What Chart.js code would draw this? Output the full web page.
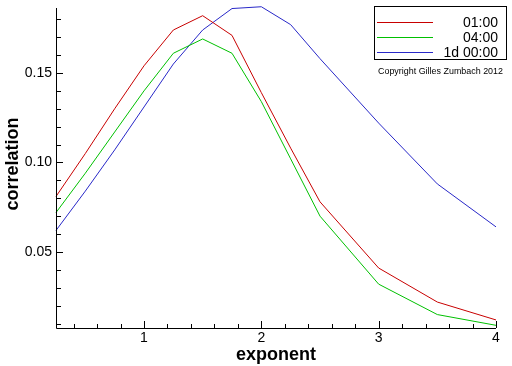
<!DOCTYPE html>
<html><head><meta charset="utf-8">
<script src="https://cdn.jsdelivr.net/npm/chart.js@4/dist/chart.umd.min.js"></script>
<style>html,body{margin:0;padding:0;background:#fff}canvas{display:block}</style>
</head><body>
<canvas id="c" width="512" height="366"></canvas>
<script>
const exponents = [0.25, 0.5, 0.75, 1, 1.25, 1.5, 1.75, 2, 2.25, 2.5, 3, 3.5, 4];
const corr0100 = [0.081, 0.105, 0.130, 0.154, 0.174, 0.182, 0.171, 0.139, 0.108, 0.078, 0.041, 0.022, 0.012];
const corr0400 = [0.072, 0.094, 0.117, 0.140, 0.161, 0.169, 0.161, 0.134, 0.102, 0.070, 0.032, 0.015, 0.009];
const corr1d   = [0.062, 0.084, 0.107, 0.131, 0.155, 0.174, 0.186, 0.187, 0.177, 0.158, 0.122, 0.088, 0.064];
const seriesLabels = ['01:00', '04:00', '1d 00:00'];
const seriesColors = ['#c80000', '#00c000', '#2828c8'];
const xTickLabels = [1, 2, 3, 4];
const yTickLabels = [0.05, 0.10, 0.15];
const xMinorStep = 0.2, yMinorStep = 0.01;
const xTitle = 'exponent', yTitle = 'correlation';
const copyright = 'Copyright Gilles Zumbach 2012';

const seriesValues = [corr0100, corr0400, corr1d];
const datasets = seriesValues.map((vals, i) => ({
  label: seriesLabels[i],
  data: exponents.map((x, j) => ({x: x, y: vals[j]})),
  borderColor: seriesColors[i],
  backgroundColor: seriesColors[i],
  borderWidth: 1,
  pointRadius: 0,
  tension: 0,
  fill: false,
  clip: false
}));

const FONT = '"Liberation Sans", Arial, sans-serif';

const decorPlugin = {
  id: 'decor',
  afterDraw(chart) {
    const ctx = chart.ctx;
    const xs = chart.scales.x, ys = chart.scales.y;
    const ca = chart.chartArea;
    ctx.save();
    ctx.strokeStyle = '#000';
    ctx.lineWidth = 1;
    // axes
    ctx.beginPath();
    ctx.moveTo(ca.left + 0.5, ca.top);
    ctx.lineTo(ca.left + 0.5, ca.bottom + 0.5);
    ctx.lineTo(ca.right, ca.bottom + 0.5);
    ctx.stroke();
    // y ticks (inward)
    ctx.beginPath();
    for (let k = 1; k * yMinorStep <= ys.max + 1e-9; k++) {
      const v = k * yMinorStep;
      if (v < ys.min) continue;
      const major = yTickLabels.some(t => Math.abs(t - v) < 1e-9);
      const py = Math.round(ys.getPixelForValue(v)) + 0.5;
      ctx.moveTo(ca.left, py);
      ctx.lineTo(ca.left + (major ? 7 : 5), py);
    }
    // x ticks (inward)
    for (let k = 1; k * xMinorStep <= xs.max + 1e-9; k++) {
      const v = k * xMinorStep;
      if (v < xs.min) continue;
      const major = xTickLabels.some(t => Math.abs(t - v) < 1e-9);
      const px = Math.round(xs.getPixelForValue(v)) + 0.5;
      ctx.moveTo(px, ca.bottom);
      ctx.lineTo(px, ca.bottom - (major ? 7 : 4));
    }
    ctx.stroke();

    // axis titles
    ctx.fillStyle = '#000';
    ctx.font = 'bold 18px ' + FONT;
    ctx.textAlign = 'center';
    ctx.textBaseline = 'middle';
    ctx.fillText(xTitle, (ca.left + ca.right) / 2, 355);
    ctx.save();
    ctx.translate(13, 164);
    ctx.rotate(-Math.PI / 2);
    ctx.fillText(yTitle, 0, 0);
    ctx.restore();

    // legend box
    const bx = 374, by = 6, bw = 132, bh = 53;
    ctx.fillStyle = '#fff';
    ctx.fillRect(bx, by, bw, bh);
    ctx.strokeStyle = '#000';
    ctx.strokeRect(bx + 0.5, by + 0.5, bw, bh);
    ctx.font = '14px ' + FONT;
    ctx.textAlign = 'right';
    ctx.textBaseline = 'middle';
    chart.data.datasets.forEach((ds, i) => {
      const ly = 22 + i * 15;
      ctx.strokeStyle = ds.borderColor;
      ctx.beginPath();
      ctx.moveTo(377, ly + 0.5);
      ctx.lineTo(433, ly + 0.5);
      ctx.stroke();
      ctx.fillStyle = '#000';
      ctx.fillText(ds.label, 498, ly + 1);
    });
    ctx.font = '9px ' + FONT;
    ctx.textAlign = 'left';
    ctx.fillText(copyright, 378, 72, 125);
    ctx.restore();
  }
};

new Chart(document.getElementById('c'), {
  type: 'line',
  data: { datasets: datasets },
  options: {
    responsive: false,
    animation: false,
    devicePixelRatio: 1,
    layout: { padding: { top: 8, right: 16, left: 0, bottom: 0 } },
    plugins: { legend: { display: false }, tooltip: { enabled: false } },
    scales: {
      x: {
        type: 'linear',
        min: 0.25, max: 4,
        grid: { display: false, drawTicks: false },
        border: { display: false },
        afterBuildTicks: s => { s.ticks = xTickLabels.map(v => ({ value: v })); },
        afterFit: s => { s.height = 38; s.paddingLeft = 0; s.paddingRight = 0; s.paddingTop = 0; s.paddingBottom = 0; },
        ticks: { font: { family: FONT, size: 14 }, color: '#000', padding: 2, maxRotation: 0,
          callback: v => String(v) }
      },
      y: {
        type: 'linear',
        min: 0.0075, max: 0.1863,
        grid: { display: false, drawTicks: false },
        border: { display: false },
        afterBuildTicks: s => { s.ticks = yTickLabels.map(v => ({ value: v })); },
        afterFit: s => { s.width = 56; s.paddingLeft = 0; s.paddingRight = 0; s.paddingTop = 0; s.paddingBottom = 0; },
        ticks: { font: { family: FONT, size: 14 }, color: '#000', padding: 4,
          callback: v => v.toFixed(2) }
      }
    }
  },
  plugins: [decorPlugin]
});
</script>
</body></html>
